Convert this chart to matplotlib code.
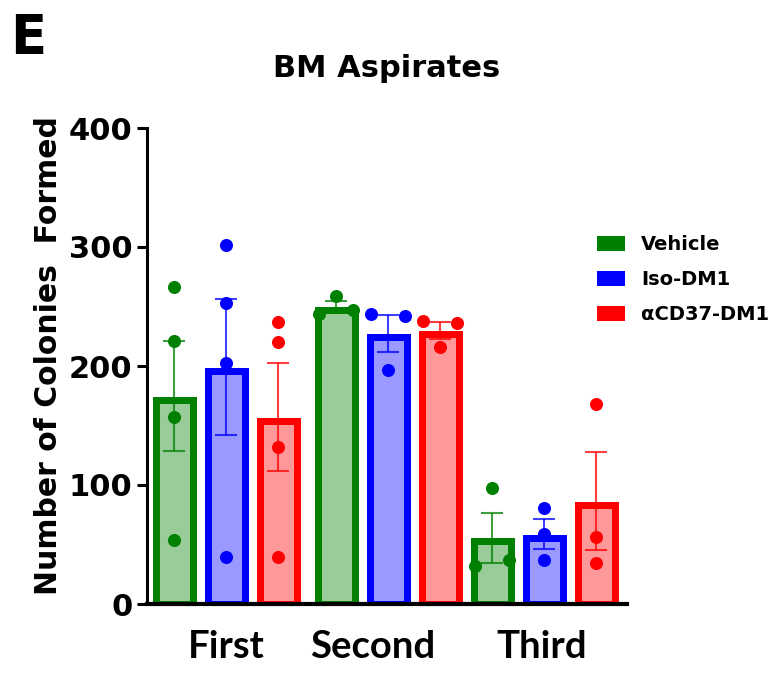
import matplotlib
matplotlib.use('Agg')
import numpy as np
from matplotlib import pyplot as plt
from matplotlib.colors import to_rgba
from matplotlib.patches import Patch

# colonies per replicate, one list per aspirate, in draw order
groups = ['First', 'Second', 'Third']
treatments = ['Vehicle', 'Iso-DM1', 'αCD37-DM1']
vehicle = [[266.7, 221.0, 157.4, 53.8], [259.0, 243.4, 247.0], [97.8, 32.2, 36.7]]
iso_dm1 = [[301.7, 252.7, 202.8, 39.2], [243.4, 242.0, 196.6], [80.7, 58.8, 36.7]]
acd37_dm1 = [[237.2, 219.9, 132.2, 39.2], [238.0, 235.9, 215.7], [168.0, 56.6, 34.7]]
colors = ['#008000', '#0000ff', '#ff0000']
series = [vehicle, iso_dm1, acd37_dm1]


def spread(vals, thr=10, off=0.33):
    """push overlapping dots sideways, like Prism does"""
    offs = [0.0] * len(vals)
    used = set()
    for i in range(len(vals)):
        for j in range(i + 1, len(vals)):
            if i in used or j in used:
                continue
            if abs(vals[i] - vals[j]) < thr:
                offs[i], offs[j] = -off, off
                used.update((i, j))
    return np.array(offs)


fig = plt.figure(figsize=(7.75, 6.77), dpi=100)
ax = fig.add_axes([147 / 775, 1 - 604 / 677, 480 / 775, 476 / 677])

group_start = [0, 3.12, 6.12]
label_nudge = [0, -0.29, -0.05]   # the labels in the original sit a bit left
px_y = 476 / 400          # pixels per colony
edge_px = 7
bar_w = (44 - edge_px) / 52
inset = edge_px / 2 / px_y

for g, start in enumerate(group_start):
    for j, (data, c) in enumerate(zip(series, colors)):
        vals = np.array(data[g])
        m = vals.mean()
        sem = vals.std(ddof=1) / np.sqrt(len(vals))
        x = start + j
        ax.bar(x, m - inset, width=bar_w, facecolor=to_rgba(c, 0.4),
               edgecolor=c, linewidth=edge_px * 0.72, zorder=2)
        ax.errorbar(x, m, yerr=sem, fmt='none', ecolor=to_rgba(c, 0.75),
                    elinewidth=1.5, capsize=8, capthick=1.5, zorder=3)
        ax.plot(x + spread(vals), vals, 'o', color=c, markersize=9.4,
                markeredgewidth=0, zorder=4, clip_on=False)

ax.set_xlim(-0.52, 8.71)
ax.set_ylim(0, 400)
ax.set_yticks(range(0, 401, 100))
ax.set_yticklabels([str(v) for v in range(0, 401, 100)],
                   fontsize=22, fontweight='bold')
ax.set_xticks([s + 1 + n for s, n in zip(group_start, label_nudge)])
ax.set_xticklabels(groups, fontsize=27.5, fontweight='bold', family='Lato')
ax.tick_params(axis='y', length=7, width=2.2, pad=3.6)
ax.tick_params(axis='x', length=0, pad=19)

for side in ['top', 'right']:
    ax.spines[side].set_visible(False)
ax.spines['left'].set_linewidth(2.2)
ax.spines['bottom'].set_linewidth(3)
ax.spines['left'].set_zorder(5)
ax.spines['bottom'].set_zorder(5)

handles = [Patch(facecolor=c, edgecolor='none', label=t)
           for c, t in zip(colors, treatments)]
fig.legend(handles=handles, loc='upper left',
           bbox_to_anchor=(597 / 775, 1 - 235 / 677), frameon=False,
           prop={'weight': 'bold', 'size': 14}, handlelength=1.44,
           handleheight=0.82, handletextpad=0.82, labelspacing=0.83,
           borderpad=0, borderaxespad=0)

fig.text(387 / 775, 1 - 77 / 677, 'BM Aspirates', ha='center', va='baseline',
         fontsize=22, fontweight='bold')
fig.text(10 / 775, 1 - 53 / 677, 'E', fontsize=38, fontweight='bold',
         va='baseline')
fig.text(49 / 775, 1 - 356 / 677, 'Number of Colonies  Formed', rotation=90,
         ha='center', va='center', fontsize=21.5, fontweight='bold')

plt.savefig('out.png', dpi=100)
